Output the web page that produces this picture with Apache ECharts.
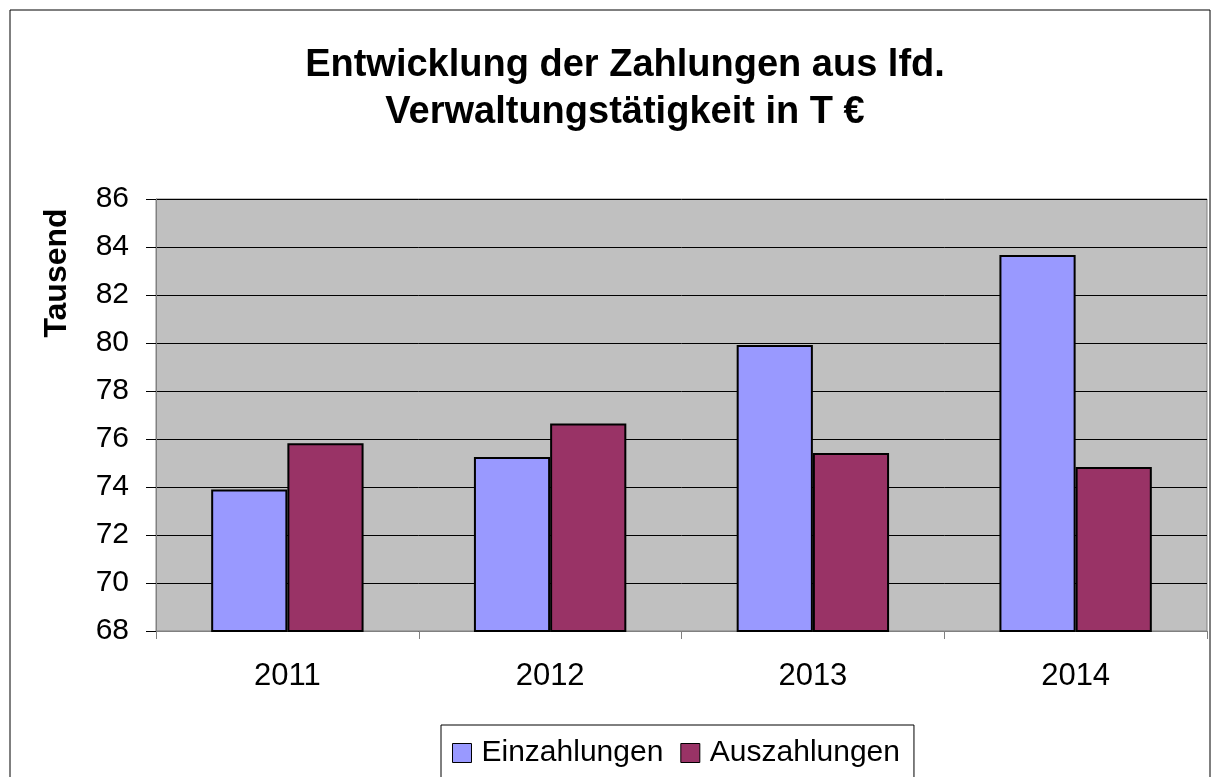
<!DOCTYPE html>
<html>
<head>
<meta charset="utf-8">
<script src="https://cdn.jsdelivr.net/npm/echarts@6/dist/echarts.min.js"></script>
<style>
  html, body { margin: 0; padding: 0; background: #fff; }
  #chart { width: 1212px; height: 777px; }
</style>
</head>
<body>
<div id="chart"></div>
<script>
// values in thousands of euro
const years = ["2011", "2012", "2013", "2014"];
const einzahlungen = [73.9, 75.25, 79.92, 83.67];
const auszahlungen = [75.82, 76.65, 75.42, 74.83];
const seriesNames = ["Einzahlungen", "Auszahlungen"];
const unitLabel = "Tausend";

const chart = echarts.init(document.getElementById("chart"));

const font = "Liberation Sans, Arial, sans-serif";

chart.setOption({
  backgroundColor: "#ffffff",
  animation: false,
  graphic: [
    {
      type: "rect",
      shape: { x: 10, y: 10, width: 1200, height: 800 },
      style: { fill: "none", stroke: "#000000", lineWidth: 1 }
    },
    {
      // unit label sits high up on the left, not centred on the axis
      type: "text",
      x: 57,
      y: 273,
      rotation: Math.PI / 2,
      style: {
        text: unitLabel,
        fontFamily: font,
        fontSize: 32,
        fontWeight: "bold",
        fill: "#000",
        align: "center",
        verticalAlign: "middle"
      }
    }
  ],
  title: {
    text: "Entwicklung der Zahlungen aus lfd.\nVerwaltungstätigkeit in T €",
    left: 620,
    textAlign: "center",
    top: 37,
    textStyle: {
      fontFamily: font,
      fontSize: 38,
      fontWeight: "bold",
      color: "#000",
      lineHeight: 47
    }
  },
  grid: {
    left: 156,
    right: 5,
    top: 199,
    bottom: 146,
    show: true,
    backgroundColor: "#c0c0c0",
    borderColor: "#808080",
    borderWidth: 1
  },
  legend: {
    data: seriesNames,
    top: 725,
    left: 441,
    icon: "rect",
    itemWidth: 19,
    itemHeight: 19,
    itemGap: 17,
    padding: [13, 14, 20, 11],
    borderColor: "#000",
    borderWidth: 1,
    textStyle: { fontFamily: font, fontSize: 30, color: "#000", padding: [0, 0, 0, 5] },
    itemStyle: { borderColor: "#000", borderWidth: 1 }
  },
  xAxis: {
    type: "category",
    data: years,
    axisLine: { lineStyle: { color: "#808080", width: 1 } },
    axisTick: { show: true, alignWithLabel: false, length: 8, lineStyle: { color: "#808080" } },
    axisLabel: { fontFamily: font, fontSize: 31, color: "#000", margin: 30 }
  },
  yAxis: {
    type: "value",
    min: 68,
    max: 86,
    interval: 2,
    axisLine: { show: true, lineStyle: { color: "#808080", width: 1 } },
    axisTick: { show: true, length: 10, lineStyle: { color: "#000" } },
    axisLabel: { fontFamily: font, fontSize: 30, color: "#000", margin: 27 },
    splitLine: { show: true, lineStyle: { color: "#000", width: 1 } }
  },
  series: [
    {
      name: seriesNames[0],
      type: "bar",
      data: einzahlungen,
      barGap: "0%",
      barCategoryGap: "42%",
      itemStyle: { color: "#9999ff", borderColor: "#000", borderWidth: 2 }
    },
    {
      name: seriesNames[1],
      type: "bar",
      data: auszahlungen,
      itemStyle: { color: "#993366", borderColor: "#000", borderWidth: 2 }
    }
  ]
});
</script>
</body>
</html>
